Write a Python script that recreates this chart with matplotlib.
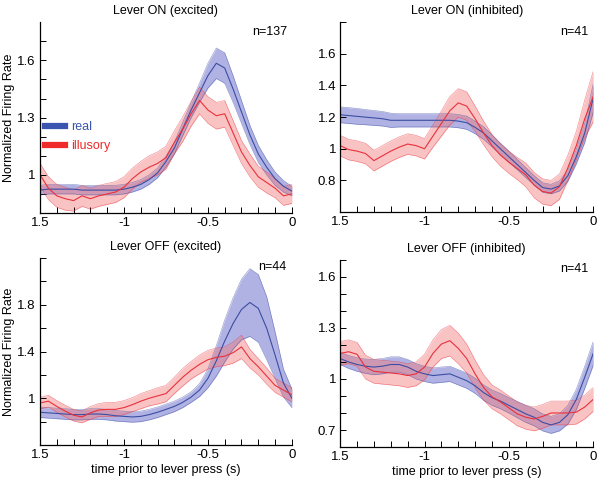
import numpy as np
import matplotlib
matplotlib.use('Agg')
import matplotlib.pyplot as plt
from matplotlib.lines import Line2D

plt.rcParams['font.family'] = ['Liberation Sans', 'DejaVu Sans']

# time prior to lever press (s), sampled every 50 ms
t = np.round(np.arange(-1.5, 0.001, 0.05), 2)

# Lever ON (excited), n=137
on_exc_real = [0.92, 0.925, 0.925, 0.925, 0.925, 0.92, 0.92, 0.92, 0.92, 0.92, 0.925,
               0.935, 0.95, 0.975, 1.01, 1.07, 1.14, 1.24, 1.34, 1.43, 1.52,
               1.585, 1.56, 1.45, 1.33, 1.21, 1.11, 1.04, 0.98, 0.94, 0.915]
on_exc_real_sem = [0.025, 0.025, 0.025, 0.025, 0.025, 0.025, 0.025, 0.025, 0.025, 0.025, 0.025,
                   0.025, 0.025, 0.025, 0.025, 0.028, 0.03, 0.035, 0.04, 0.05, 0.065,
                   0.08, 0.08, 0.07, 0.06, 0.05, 0.045, 0.04, 0.035, 0.03, 0.025]
on_exc_ill = [1.0, 0.93, 0.89, 0.875, 0.865, 0.89, 0.875, 0.89, 0.9, 0.91, 0.935,
              0.98, 1.015, 1.04, 1.06, 1.09, 1.17, 1.24, 1.32, 1.39, 1.34,
              1.31, 1.32, 1.22, 1.12, 1.05, 0.99, 0.96, 0.93, 0.89, 0.9]
on_exc_ill_sem = [0.06, 0.06, 0.06, 0.06, 0.055, 0.055, 0.055, 0.055, 0.055, 0.055, 0.055,
                  0.055, 0.055, 0.06, 0.06, 0.06, 0.06, 0.065, 0.065, 0.07, 0.07,
                  0.07, 0.07, 0.065, 0.06, 0.06, 0.055, 0.055, 0.05, 0.05, 0.05]

# Lever ON (inhibited), n=41
on_inh_real = [1.215, 1.21, 1.205, 1.2, 1.195, 1.19, 1.18, 1.18, 1.18, 1.18, 1.18,
               1.18, 1.18, 1.18, 1.175, 1.165, 1.135, 1.1, 1.05, 1.0, 0.95,
               0.9, 0.85, 0.8, 0.755, 0.745, 0.765, 0.83, 0.95, 1.1, 1.32]
on_inh_real_sem = [0.05, 0.05, 0.05, 0.048, 0.047, 0.046, 0.045, 0.042, 0.042, 0.042, 0.042,
                   0.042, 0.042, 0.042, 0.042, 0.042, 0.04, 0.04, 0.038, 0.036, 0.035,
                   0.033, 0.032, 0.03, 0.03, 0.03, 0.032, 0.035, 0.045, 0.06, 0.09]
on_inh_ill = [1.02, 0.995, 0.985, 0.97, 0.925, 0.955, 0.985, 1.01, 1.03, 1.02, 1.0,
              1.08, 1.16, 1.24, 1.29, 1.27, 1.19, 1.1, 1.02, 0.96, 0.915,
              0.875, 0.835, 0.77, 0.73, 0.72, 0.76, 0.88, 1.02, 1.19, 1.33]
on_inh_ill_sem = [0.065, 0.065, 0.065, 0.065, 0.065, 0.065, 0.065, 0.065, 0.065, 0.065, 0.065,
                  0.07, 0.08, 0.09, 0.09, 0.09, 0.08, 0.075, 0.07, 0.07, 0.07,
                  0.07, 0.075, 0.08, 0.08, 0.08, 0.08, 0.08, 0.09, 0.12, 0.16]

# Lever OFF (excited), n=44
off_exc_real = [0.88, 0.875, 0.87, 0.865, 0.86, 0.86, 0.865, 0.865, 0.86, 0.85, 0.845,
                0.84, 0.845, 0.86, 0.88, 0.905, 0.93, 0.965, 1.01, 1.07, 1.17,
                1.32, 1.49, 1.64, 1.76, 1.82, 1.77, 1.6, 1.37, 1.13, 1.0]
off_exc_real_sem = [0.045, 0.045, 0.045, 0.045, 0.045, 0.045, 0.045, 0.045, 0.045, 0.045, 0.045,
                    0.045, 0.045, 0.045, 0.045, 0.045, 0.045, 0.045, 0.045, 0.055, 0.08,
                    0.13, 0.18, 0.22, 0.26, 0.29, 0.29, 0.27, 0.2, 0.12, 0.08]
off_exc_ill = [0.96, 0.975, 0.93, 0.89, 0.855, 0.84, 0.875, 0.9, 0.905, 0.905, 0.92,
               0.945, 0.975, 1.0, 1.02, 1.04, 1.11, 1.18, 1.24, 1.29, 1.33,
               1.35, 1.36, 1.39, 1.44, 1.34, 1.27, 1.19, 1.11, 1.07, 1.03]
off_exc_ill_sem = [0.05, 0.05, 0.05, 0.05, 0.05, 0.05, 0.055, 0.055, 0.06, 0.06, 0.06,
                   0.06, 0.065, 0.065, 0.07, 0.07, 0.07, 0.075, 0.075, 0.08, 0.08,
                   0.08, 0.08, 0.09, 0.1, 0.08, 0.07, 0.07, 0.06, 0.06, 0.06]

# Lever OFF (inhibited), n=41
off_inh_real = [1.12, 1.1, 1.085, 1.075, 1.07, 1.075, 1.085, 1.085, 1.07, 1.045, 1.03,
                1.02, 1.025, 1.03, 1.01, 0.99, 0.96, 0.92, 0.89, 0.87, 0.845,
                0.82, 0.795, 0.775, 0.745, 0.73, 0.745, 0.79, 0.88, 1.01, 1.15]
off_inh_real_sem = [0.035, 0.038, 0.04, 0.042, 0.045, 0.045, 0.045, 0.045, 0.045, 0.045, 0.045,
                    0.045, 0.045, 0.045, 0.045, 0.045, 0.045, 0.045, 0.045, 0.045, 0.045,
                    0.048, 0.05, 0.05, 0.05, 0.05, 0.05, 0.055, 0.06, 0.065, 0.07]
off_inh_ill = [1.15, 1.16, 1.145, 1.07, 1.045, 1.04, 1.035, 1.03, 1.02, 1.03, 1.07,
               1.15, 1.205, 1.225, 1.18, 1.12, 1.03, 0.95, 0.895, 0.865, 0.83,
               0.795, 0.775, 0.765, 0.78, 0.8, 0.8, 0.8, 0.805, 0.835, 0.88]
off_inh_ill_sem = [0.07, 0.07, 0.07, 0.07, 0.07, 0.07, 0.07, 0.07, 0.07, 0.07, 0.075,
                   0.08, 0.085, 0.09, 0.09, 0.085, 0.08, 0.075, 0.07, 0.07, 0.07,
                   0.07, 0.07, 0.07, 0.07, 0.07, 0.07, 0.07, 0.07, 0.07, 0.07]

xtick_vals = [-1.5, -1, -0.5, 0]
xtick_labels = ['1.5', '-1', '-0.5', '0']

REAL_LINE = '#3c4ea3'
REAL_FILL = '#6f73cc'
ILL_LINE = '#e8313c'
ILL_FILL = '#f47a7a'


def draw_band(ax, mean, sem, line_c, fill_c, alpha):
    mean = np.array(mean)
    sem = np.array(sem)
    ax.fill_between(t, mean - sem, mean + sem, color=fill_c, alpha=alpha, lw=0)
    ax.plot(t, mean - sem, color=line_c, lw=0.4, alpha=0.6)
    ax.plot(t, mean + sem, color=line_c, lw=0.4, alpha=0.6)


def draw_panel(ax, title, n_label, real, real_sem, ill, ill_sem, ylim, ymajor, ylabels, ystep):
    draw_band(ax, real, real_sem, REAL_LINE, REAL_FILL, 0.55)
    draw_band(ax, ill, ill_sem, ILL_LINE, ILL_FILL, 0.45)
    ax.plot(t, real, color=REAL_LINE, lw=0.8)
    ax.plot(t, ill, color=ILL_LINE, lw=0.8)

    ax.set_xlim(-1.5, 0)
    ax.set_ylim(*ylim)
    for side in ['top', 'right']:
        ax.spines[side].set_visible(False)
    ax.spines['left'].set_linewidth(0.9)
    ax.spines['bottom'].set_linewidth(0.9)

    ax.set_xticks(xtick_vals)
    ax.set_xticklabels(xtick_labels)
    ax.set_xticks(np.round(np.arange(-1.5, 0.001, 0.1), 2), minor=True)
    ax.set_yticks(ymajor)
    ax.set_yticklabels(ylabels)
    ax.set_yticks(np.round(np.arange(ylim[0], ylim[1] + 0.001, ystep), 2), minor=True)
    ax.tick_params(which='both', direction='in', length=4, width=0.7, labelsize=9.5, pad=3)

    ax.set_title(title, fontsize=9, pad=6)
    ax.text(0.98, 0.95, n_label, transform=ax.transAxes, ha='right', va='center', fontsize=9)


def main():
    fig = plt.figure(figsize=(6.01, 4.83), dpi=100)

    ax1 = fig.add_axes([0.0666, 0.559, 0.419, 0.395])
    draw_panel(ax1, 'Lever ON (excited)', 'n=137', on_exc_real, on_exc_real_sem,
               on_exc_ill, on_exc_ill_sem, (0.805, 1.8), [1, 1.3, 1.6], ['1', '1.3', '1.6'], 0.1)
    ax1.set_ylabel('Normalized Firing Rate', fontsize=9, labelpad=2)
    handles = [Line2D([], [], color='#3a55b0', lw=4.5), Line2D([], [], color='#ee2a2a', lw=4.5)]
    ax1.legend(handles, ['real', 'illusory'], loc='upper left', bbox_to_anchor=(0.02, 0.48),
               frameon=False, fontsize=9, handlelength=1.6, handletextpad=0.5,
               labelspacing=0.55, borderpad=0, borderaxespad=0, labelcolor='linecolor')

    ax2 = fig.add_axes([0.566, 0.561, 0.421, 0.393])
    draw_panel(ax2, 'Lever ON (inhibited)', 'n=41', on_inh_real, on_inh_real_sem,
               on_inh_ill, on_inh_ill_sem, (0.6, 1.8), [0.8, 1, 1.2, 1.4, 1.6],
               ['0.8', '1', '1.2', '1.4', '1.6'], 0.2)

    ax3 = fig.add_axes([0.0666, 0.0787, 0.419, 0.387])
    draw_panel(ax3, 'Lever OFF (excited)', 'n=44', off_exc_real, off_exc_real_sem,
               off_exc_ill, off_exc_ill_sem, (0.6, 2.2), [1, 1.4, 1.8], ['1', '1.4', '1.8'], 0.2)
    ax3.set_ylabel('Normalized Firing Rate', fontsize=9, labelpad=2)
    ax3.set_xlabel('time prior to lever press (s)', fontsize=9, labelpad=2)

    ax4 = fig.add_axes([0.566, 0.0745, 0.421, 0.3875])
    draw_panel(ax4, 'Lever OFF (inhibited)', 'n=41', off_inh_real, off_inh_real_sem,
               off_inh_ill, off_inh_ill_sem, (0.6, 1.7), [0.7, 1, 1.3, 1.6],
               ['0.7', '1', '1.3', '1.6'], 0.1)
    ax4.set_xlabel('time prior to lever press (s)', fontsize=9, labelpad=2)

    fig.savefig('out.png', dpi=100)


if __name__ == "__main__":
    main()
